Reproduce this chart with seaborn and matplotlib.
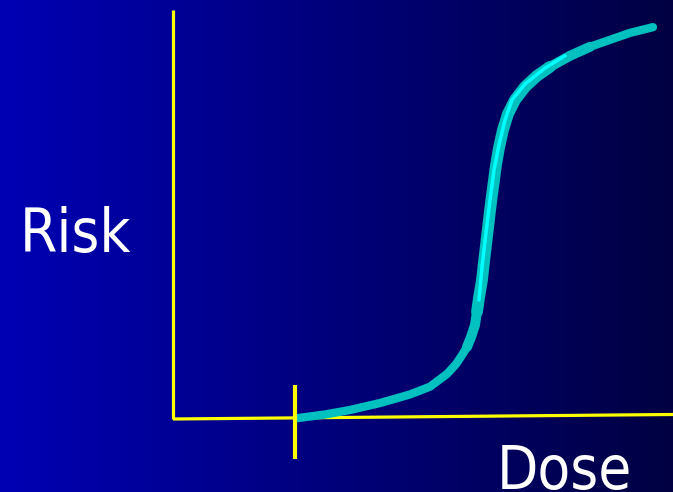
import numpy as np
import pandas as pd
import seaborn as sb
import matplotlib.pyplot as plt
from matplotlib.colors import LinearSegmentedColormap

# dose-response curve (dose 0..10, risk 0..1)
dose = [2.48, 3.04, 3.54, 4.14, 4.74, 5.14, 5.48, 5.66, 5.78, 5.88, 5.96,
        6.04, 6.08, 6.12, 6.18, 6.22, 6.26, 6.30, 6.34, 6.38, 6.42, 6.46,
        6.52, 6.60, 6.70, 6.84, 7.04, 7.28, 7.54, 7.94, 8.34, 8.74, 9.14, 9.60]
risk = [0.002, 0.011, 0.022, 0.039, 0.060, 0.079, 0.110, 0.134, 0.156, 0.176, 0.200,
        0.230, 0.262, 0.296, 0.340, 0.384, 0.425, 0.467, 0.509, 0.548, 0.584, 0.621,
        0.663, 0.707, 0.746, 0.780, 0.812, 0.839, 0.861, 0.888, 0.910, 0.927, 0.944, 0.958]

# bright highlight along the steep part
hl_dose = [6.12, 6.18, 6.26, 6.34, 6.42, 6.52, 6.64, 6.78, 7.04, 7.44, 7.84]
hl_risk = [0.291, 0.372, 0.455, 0.535, 0.609, 0.670, 0.731, 0.780, 0.819, 0.858, 0.888]

threshold = 2.44

curve = pd.DataFrame({"dose": dose, "risk": risk})
middle = curve.iloc[9:31]  # stroke gets wider here
steep = curve.iloc[12:29]  # widest part
highlight = pd.DataFrame({"dose": hl_dose, "risk": hl_risk})

fig = plt.figure(figsize=(6.73, 4.92), dpi=100)
ax = fig.add_axes([0, 0, 1, 1])
xlim = (-3.46, 10.0)
ylim = (-0.1785, 1.0244)

# background gradient
bg = LinearSegmentedColormap.from_list("bg", ["#0000B4", "#00007A", "#000042"])
grad = np.linspace(0, 1, 256).reshape(1, -1)
ax.imshow(grad, cmap=bg, extent=(xlim[0], xlim[1], ylim[0], ylim[1]),
          aspect="auto", zorder=0)

# axes drawn as yellow lines
ax.plot([0, 0], [0.0, 1.0], color="#FFFF00", lw=2.3, zorder=2, solid_capstyle="butt")
ax.plot([0, 10.0], [0.0, 0.011], color="#FFFF00", lw=2.3, zorder=2, solid_capstyle="butt")
ax.plot([threshold, threshold], [0.083, -0.098], color="#FFFF00", lw=3.0, zorder=4,
        solid_capstyle="butt")

sb.lineplot(data=curve, x="dose", y="risk", sort=False, color="#00C0C0", lw=6.0,
            ax=ax, zorder=3, solid_capstyle="round", solid_joinstyle="round")
sb.lineplot(data=middle, x="dose", y="risk", sort=False, color="#00C0C0", lw=7.2,
            ax=ax, zorder=3, solid_capstyle="round", solid_joinstyle="round")
sb.lineplot(data=steep, x="dose", y="risk", sort=False, color="#00C0C0", lw=8.5,
            ax=ax, zorder=3, solid_capstyle="round", solid_joinstyle="round")
sb.lineplot(data=highlight, x="dose", y="risk", sort=False, color="#00FFFF", lw=2.5,
            ax=ax, zorder=3, solid_capstyle="round", solid_joinstyle="round")

ax.text(-3.06, 0.408, "Risk", color="white", fontsize=43, family="DejaVu Sans",
        fontstretch="condensed", ha="left", va="baseline")
ax.text(6.48, -0.170, "Dose", color="white", fontsize=43, family="DejaVu Sans",
        fontstretch="condensed", ha="left", va="baseline")

ax.set_xlim(xlim)
ax.set_ylim(ylim)
ax.axis("off")
fig.savefig("out.png", dpi=100)
